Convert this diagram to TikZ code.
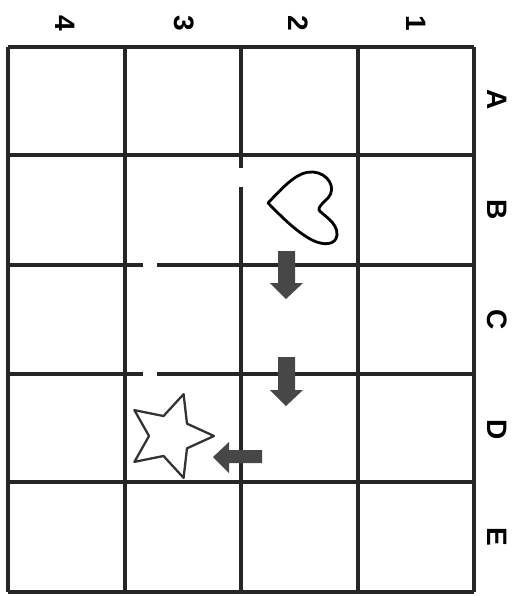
\documentclass[tikz,border=0pt]{standalone}
\usepackage{fontspec}
\setmainfont{Liberation Sans}
\usetikzlibrary{calc}
\colorlet{arrowgray}{black!72}
\tikzset{
    gridline/.style={line width=1.9pt, black!85},
    lab/.style={font=\fontsize{16}{18}\selectfont\bfseries, rotate=-90, inner sep=0pt},
    blockarrow/.style={fill=arrowgray, draw=none},
    outline/.style={line width=1.3pt, black!80, line join=round}
}
\begin{document}
\begin{tikzpicture}[x=0.02cm, y=-0.02cm]

    \useasboundingbox (0,0) rectangle (518,596);

    % Grid
    \foreach \xx in {8,125,241,358,474}
        \draw[gridline] (\xx,47) -- (\xx,592);
    \foreach \yy in {47,155,265,374,482,592}
        \draw[gridline] (8,\yy) -- (474,\yy);

    % Gaps in the lines
    \fill[white] (238,168) rectangle (244,187);
    \fill[white] (143,261) rectangle (157,269);
    \fill[white] (143,370) rectangle (157,378);

    % Labels
    \node[lab] (c4) at (65,23) {4};
    \node[lab] (c3) at (184,23) {3};
    \node[lab] (c2) at (298,23) {2};
    \node[lab] (c1) at (416,23) {1};
    \node[lab] (rA) at (497,100) {A};
    \node[lab] (rB) at (497,210) {B};
    \node[lab] (rC) at (497,320) {C};
    \node[lab] (rD) at (497,430) {D};
    \node[lab] (rE) at (497,537) {E};

    % Heart
    \draw[outline, black, line width=1.6pt]
        (268,203)
        .. controls (285,185) and (298,171) .. (313,172)
        .. controls (328,173) and (337,188) .. (328,198)
        .. controls (323,203) and (318,207) .. (319,210)
        .. controls (321,214) and (338,222) .. (337,235)
        .. controls (336,245) and (324,246) .. (312,240)
        .. controls (295,231) and (280,215) .. (268,203) -- cycle;

    % Arrows
    \fill[blockarrow] (278,251) -- (295,251) -- (295,283) -- (303,283)
        -- (286,299) -- (270,283) -- (278,283) -- cycle;
    \fill[blockarrow] (278,357) -- (295,357) -- (295,390) -- (303,390)
        -- (286,406) -- (270,390) -- (278,390) -- cycle;
    \fill[blockarrow] (262,450) -- (262,463) -- (229,463) -- (229,473)
        -- (213,457) -- (229,442) -- (229,450) -- cycle;

    % Star
    \coordinate (sc) at (170,436);
    \draw[outline]
        ($(sc)+(0:44)$) -- ($(sc)+(36:21)$) -- ($(sc)+(72:44)$) -- ($(sc)+(108:21)$)
        -- ($(sc)+(144:44)$) -- ($(sc)+(180:21)$) -- ($(sc)+(216:44)$) -- ($(sc)+(252:21)$)
        -- ($(sc)+(288:44)$) -- ($(sc)+(324:21)$) -- cycle;

\end{tikzpicture}
\end{document}
